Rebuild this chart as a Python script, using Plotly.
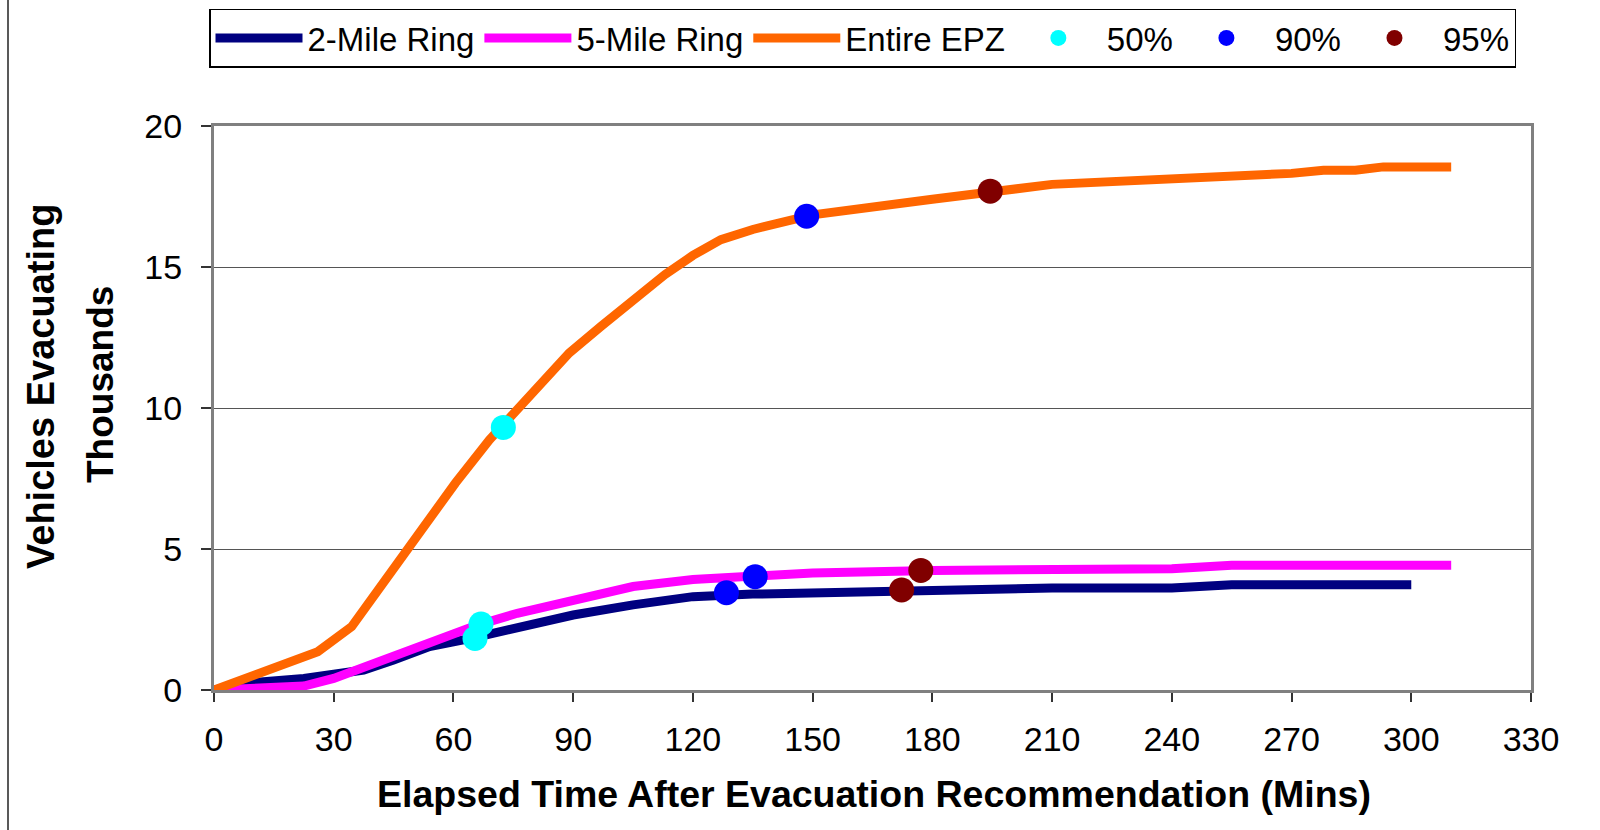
import plotly.graph_objects as go

# Elapsed time (minutes) and vehicles evacuating (thousands) per region
ring2_t = [0, 7.5, 22.5, 30, 37.5, 45, 54, 65, 90, 105, 120, 135, 150, 180, 210, 240, 255, 300]
ring2_v = [0, 0.24, 0.41, 0.53, 0.71, 1.06, 1.54, 1.85, 2.66, 3.02, 3.31, 3.40, 3.44, 3.53, 3.62, 3.62, 3.73, 3.73]

ring5_t = [0, 22.5, 30, 45, 53, 66, 76, 90, 105, 120, 135, 150, 180, 210, 240, 255, 310]
ring5_v = [0, 0.14, 0.41, 1.18, 1.66, 2.30, 2.72, 3.19, 3.67, 3.92, 4.02, 4.15, 4.24, 4.30, 4.30, 4.42, 4.42]

epz_t = [0, 15, 26, 34.5, 46.5, 55, 60.5, 69, 82.5, 89, 97, 105, 113, 120, 127, 135,
         150, 180, 210, 270, 278, 286, 293, 310]
epz_v = [0, 0.78, 1.36, 2.25, 4.65, 6.35, 7.34, 8.87, 10.88, 11.95, 12.9, 13.84, 14.73, 15.41, 15.97, 16.33,
         16.85, 17.40, 17.93, 18.32, 18.43, 18.43, 18.55, 18.55]

# Times at which 50%, 90% and 95% of each region has evacuated (EPZ, 5-mile, 2-mile)
p50_t = [72.5, 66.9, 65.4]
p50_v = [9.31, 2.34, 1.83]
p90_t = [148.5, 135.6, 128.4]
p90_v = [16.80, 4.02, 3.45]
p95_t = [194.5, 177.1, 172.3]
p95_v = [17.69, 4.24, 3.55]

x_ticks = list(range(0, 331, 30))

FONT = "Liberation Sans, Arial, sans-serif"
W, H = 1600, 830
ML, MR, MT, MB = 214, 69, 126, 140
PW, PH = W - ML - MR, H - MT - MB


def px_x(p):
    return (p - ML) / PW


def px_y(p):
    return (H - MB - p) / PH


fig = go.Figure()

line_specs = [
    ("2-Mile Ring", ring2_t, ring2_v, "#000080"),
    ("5-Mile Ring", ring5_t, ring5_v, "#FF00FF"),
    ("Entire EPZ", epz_t, epz_v, "#FF6600"),
]
for name, t, v, c in line_specs:
    fig.add_trace(go.Scatter(x=t, y=v, name=name, mode="lines",
                             line=dict(color=c, width=9)))

marker_specs = [
    ("50%", p50_t, p50_v, "#00FFFF"),
    ("90%", p90_t, p90_v, "#0000FF"),
    ("95%", p95_t, p95_v, "#800000"),
]
for name, t, v, c in marker_specs:
    fig.add_trace(go.Scatter(x=t, y=v, name=name, mode="markers",
                             marker=dict(color=c, size=25, line=dict(width=0))))

fig.update_layout(
    width=W, height=H,
    margin=dict(l=ML, r=MR, t=MT, b=MB, autoexpand=False),
    paper_bgcolor="white", plot_bgcolor="white",
    font=dict(family=FONT, color="black"),
    showlegend=True,
    legend=dict(
        orientation="h", x=px_x(209), y=px_y(8.5), xanchor="left", yanchor="top",
        font=dict(size=33, family=FONT, color="black"),
        bordercolor="black", borderwidth=1.5, bgcolor="white",
        itemwidth=87, tracegroupgap=0,
    ),
    xaxis=dict(
        range=[0, 330], tickvals=x_ticks, ticks="outside", ticklen=9, tickwidth=1.5,
        tickcolor="#333", tickfont=dict(size=34, family=FONT), ticklabelstandoff=8,
        showline=True, linecolor="#808080", linewidth=3, mirror=True,
        showgrid=False, zeroline=False,
    ),
    yaxis=dict(
        range=[0, 20], dtick=5, ticks="outside", ticklen=10, tickwidth=1.5,
        tickcolor="#333", tickfont=dict(size=34, family=FONT), ticklabelstandoff=12,
        showline=True, linecolor="#808080", linewidth=3, mirror=True,
        showgrid=True, gridcolor="#555555", gridwidth=1.2, zeroline=False,
    ),
    annotations=[
        dict(text="<b>Elapsed Time After Evacuation Recommendation (Mins)</b>",
             xref="paper", yref="paper", x=px_x(874), y=px_y(794),
             xanchor="center", yanchor="middle", showarrow=False,
             font=dict(size=37.5, family=FONT)),
        dict(text="<b>Vehicles Evacuating</b>", textangle=-90,
             xref="paper", yref="paper", x=px_x(41), y=px_y(387),
             xanchor="center", yanchor="middle", showarrow=False,
             font=dict(size=38, family=FONT)),
        dict(text="<b>Thousands</b>", textangle=-90,
             xref="paper", yref="paper", x=px_x(100), y=px_y(385),
             xanchor="center", yanchor="middle", showarrow=False,
             font=dict(size=37, family=FONT)),
    ],
    shapes=[
        dict(type="line", xref="paper", yref="paper",
             x0=px_x(8), x1=px_x(8), y0=px_y(H + 5), y1=px_y(-5),
             line=dict(color="#222", width=1.5)),
    ],
)

fig.write_html("out.html")
